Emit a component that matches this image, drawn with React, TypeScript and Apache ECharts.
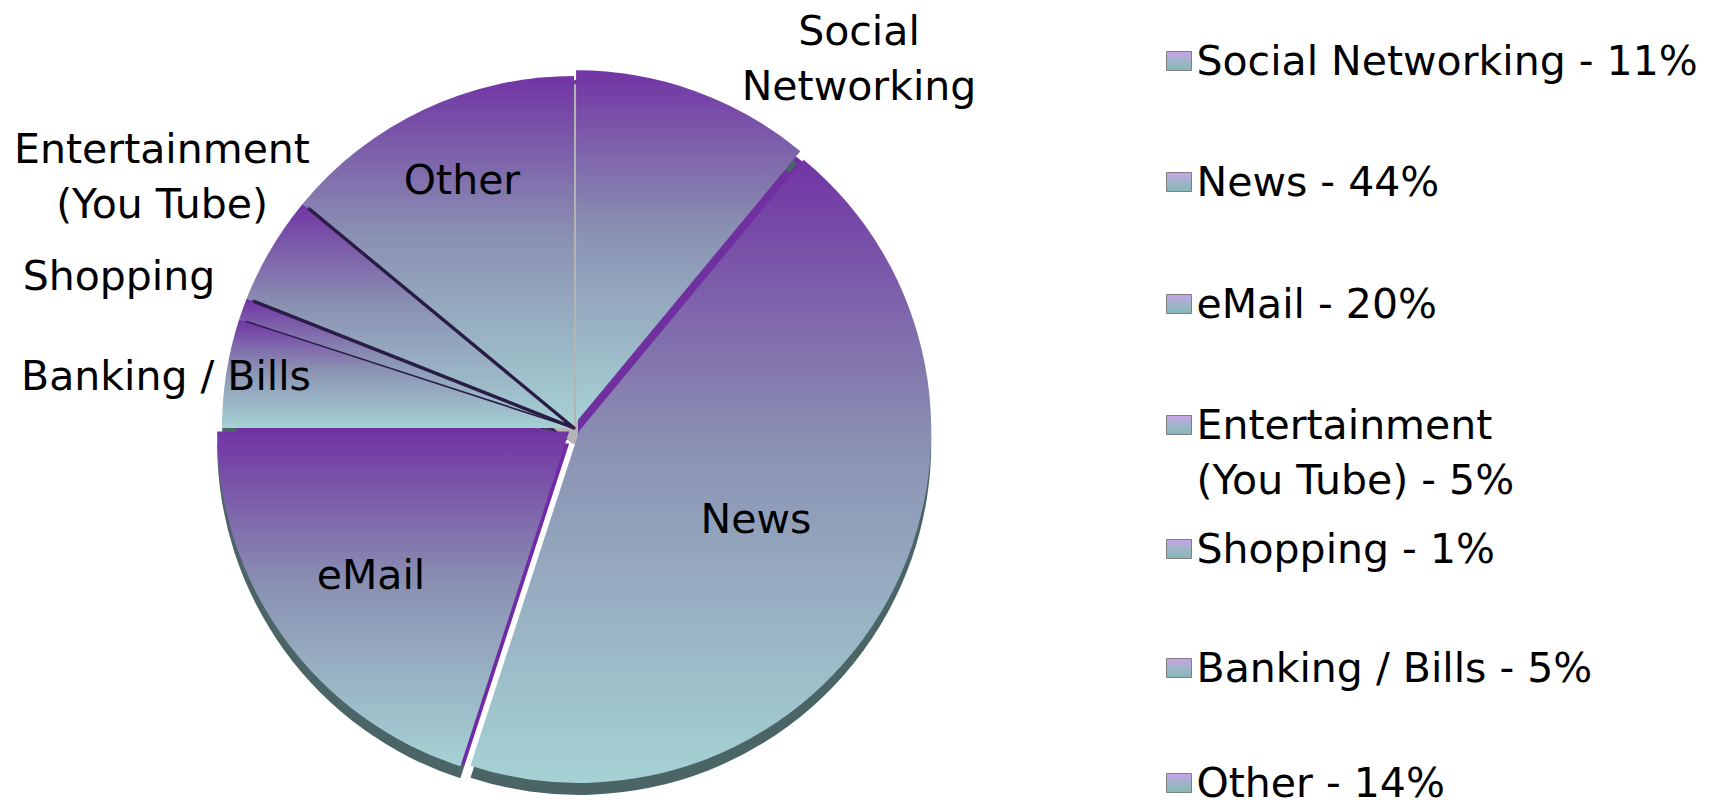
import React, { useEffect, useRef } from "react";
import * as echarts from "echarts";

// ---- data ----
const categories = [
  "Social Networking",
  "News",
  "eMail",
  "Banking / Bills",
  "Shopping",
  "Entertainment (You Tube)",
  "Other",
];
const values = [11, 44, 20, 5, 1, 5, 14];
const pieLabels = [
  "Social\nNetworking",
  "News",
  "eMail",
  "Banking / Bills",
  "Shopping",
  "Entertainment\n(You Tube)",
  "Other",
];
const legendOrder = [
  "Social Networking",
  "News",
  "eMail",
  "Entertainment (You Tube)",
  "Shopping",
  "Banking / Bills",
  "Other",
];
const legendLabels = [
  "Social Networking",
  "News",
  "eMail",
  "Entertainment\n(You Tube)",
  "Shopping",
  "Banking / Bills",
  "Other",
];
const exploded = ["Social Networking", "News", "eMail"];

// ---- layout ----
const CX = 574;
const CY = 428;
const R = 352;
const RIM = 12;
const OFFSET = 6;
const FONT = "DejaVu Sans";
const FS = 41;
const LH = 55;
const LH1 = 44;
const labelPos: Record<string, [number, number]> = {
  "Social Networking": [859, 58],
  News: [756, 519],
  eMail: [371, 575],
  "Banking / Bills": [166, 376],
  Shopping: [119, 276],
  "Entertainment (You Tube)": [162, 176],
  Other: [462, 180],
};
const legendRows = [61, 182, 304, 425, 549, 668, 783];
const legendLeft = 1166;

const sideColor: Record<string, string> = {
  "Social Networking": "#7030a0",
  News: "#7030a0",
  eMail: "#7129a8",
  "Banking / Bills": "#7030a0",
  Shopping: "#3a2560",
  "Entertainment (You Tube)": "#3a2560",
  Other: "#b4b4b4",
};
const rimBorder: Record<string, [string, number]> = {
  "Social Networking": ["#7030a0", 5],
  Other: ["#b4b4b4", 8],
};
const dividerWidth: Record<string, number> = {
  Shopping: 1.6,
  "Entertainment (You Tube)": 3.4,
};

function sliceGrad() {
  return new echarts.graphic.LinearGradient(0, 0, 0, 1, [
    { offset: 0, color: "#7134a4" },
    { offset: 0.45, color: "#8a90b2" },
    { offset: 1, color: "#a6d2d4" },
  ]);
}
function rimGrad(side: string) {
  return new echarts.graphic.RadialGradient(
    CX,
    CY + RIM,
    R,
    [
      { offset: 0, color: side },
      { offset: 0.955, color: side },
      { offset: 0.962, color: "#4b6567" },
      { offset: 1, color: "#4b6567" },
    ],
    true
  );
}
function lineGrad() {
  return new echarts.graphic.RadialGradient(
    CX,
    CY,
    R,
    [
      { offset: 0, color: "#2a1d45" },
      { offset: 0.975, color: "#2a1d45" },
      { offset: 0.985, color: "rgba(42,29,69,0)" },
      { offset: 1, color: "rgba(42,29,69,0)" },
    ],
    true
  );
}

export default function App() {
  const ref = useRef<HTMLDivElement>(null);
  useEffect(() => {
    if (!ref.current) return;
    const chart = echarts.init(ref.current, undefined, { renderer: "svg" });
    const common = {
      type: "pie" as const,
      silent: true,
      radius: [0, R],
      startAngle: 90,
      clockwise: true,
      avoidLabelOverlap: false,
      emphasis: { disabled: true },
      labelLine: { show: false },
    };
    const option: any = {
      animation: false,
      backgroundColor: "#ffffff",
      legend: legendOrder.map((name, i) => {
        const lines = legendLabels[i].split("\n").length;
        const idx = categories.indexOf(name);
        const text =
          (lines === 2 ? " \n" : "") + legendLabels[i] + " - " + values[idx] + "%";
        const lh = lines === 2 ? LH : LH1;
        return {
          data: [name],
          orient: "vertical",
          left: legendLeft,
          top: legendRows[i] - (lines === 2 ? 1.5 : 0.5) * lh,
          padding: 0,
          itemWidth: 25,
          itemHeight: 19,
          itemGap: 0,
          selectedMode: false,
          icon: "rect",
          itemStyle: {
            color: new echarts.graphic.LinearGradient(0, 0, 0, 1, [
              { offset: 0, color: "#c9a2ea" },
              { offset: 0.5, color: "#9fb6c8" },
              { offset: 1, color: "#86b6b7" },
            ]),
            borderColor: "#7f7f7f",
            borderWidth: 1,
          },
          formatter: () => text,
          textStyle: {
            fontFamily: FONT,
            fontSize: FS,
            lineHeight: lh,
            color: "#000000",
          },
        };
      }),
      series: [
        {
          ...common,
          name: "main",
          z: 3,
          center: [CX, CY],
          selectedMode: "multiple",
          selectedOffset: OFFSET,
          label: { show: false },
          data: categories.map((c, i) => ({
            name: c,
            value: values[i],
            selected: exploded.includes(c),
            itemStyle: { color: sliceGrad(), borderWidth: 0 },
          })),
        },
        {
          ...common,
          name: "rim",
          z: 1,
          center: [CX, CY + RIM],
          selectedMode: "multiple",
          selectedOffset: OFFSET,
          label: { show: false },
          data: categories.map((c, i) => ({
            name: c,
            value: values[i],
            selected: exploded.includes(c),
            itemStyle: {
              color: rimGrad(sideColor[c]),
              borderColor: rimBorder[c] ? rimBorder[c][0] : "transparent",
              borderWidth: rimBorder[c] ? rimBorder[c][1] : 0,
            },
          })),
        },
        {
          ...common,
          name: "overlay",
          z: 4,
          center: [CX, CY],
          selectedMode: false,
          data: categories.map((c, i) => ({
            name: c,
            value: values[i],
            itemStyle: {
              color: "rgba(0,0,0,0)",
              borderColor: lineGrad(),
              borderWidth: dividerWidth[c] || 0,
            },
          })),
          label: {
            show: true,
            position: "inside",
            formatter: (p: any) => pieLabels[p.dataIndex],
            color: "#000000",
            fontFamily: FONT,
            fontSize: FS,
            lineHeight: LH,
            align: "center",
          },
          labelLayout: (p: any) => {
            const pos = labelPos[categories[p.dataIndex]];
            return { x: pos[0], y: pos[1], align: "center", verticalAlign: "middle" };
          },
        },
      ],
    };
    chart.setOption(option);
    return () => chart.dispose();
  }, []);
  return (
    <div
      ref={ref}
      style={{ position: "absolute", left: 0, top: 0, width: 1733, height: 812, background: "#fff" }}
    />
  );
}
